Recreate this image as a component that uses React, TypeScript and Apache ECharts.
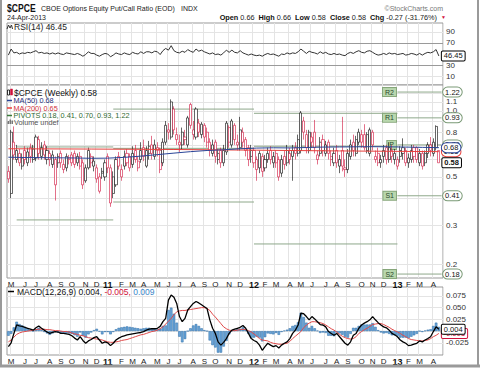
import React, { useEffect, useRef } from 'react';
import * as echarts from 'echarts';

// ---------- categories ----------
const WEEK_COUNT = 157;
const FIRST_WEEK = Date.UTC(2010, 3, 30);
const dates: string[] = Array.from({ length: WEEK_COUNT + 1 }, (_, i) =>
  new Date(FIRST_WEEK + i * 7 * 86400000).toISOString().slice(0, 10)
);
const monthLetters = ['J', 'F', 'M', 'A', 'M', 'J', 'J', 'A', 'S', 'O', 'N', 'D'];

// ---------- weekly candles [open, close, low, high] ----------
const ohlc: number[][] = [
  [0.53,0.49,0.47,0.56],[0.42,0.80,0.40,0.82],[0.72,0.63,0.60,0.85],[0.60,0.66,0.58,0.70],[0.64,0.58,0.56,0.67],
  [0.56,0.61,0.54,0.64],[0.66,0.60,0.57,0.69],[0.58,0.65,0.56,0.68],[0.68,0.62,0.58,0.71],[0.60,0.67,0.58,0.70],
  [0.61,0.76,0.59,0.78],[0.74,0.64,0.60,0.77],[0.62,0.68,0.60,0.72],[0.70,0.63,0.60,0.73],[0.60,0.66,0.57,0.69],
  [0.64,0.60,0.56,0.66],[0.57,0.63,0.55,0.66],[0.46,0.60,0.39,0.62],[0.58,0.62,0.55,0.64],[0.64,0.58,0.55,0.66],
  [0.54,0.57,0.52,0.60],[0.55,0.62,0.53,0.64],[0.60,0.61,0.57,0.63],[0.63,0.58,0.56,0.65],[0.64,0.57,0.55,0.66],
  [0.58,0.62,0.56,0.64],[0.62,0.56,0.54,0.65],[0.58,0.46,0.44,0.60],[0.48,0.55,0.47,0.57],[0.55,0.66,0.54,0.68],
  [0.62,0.58,0.55,0.64],[0.56,0.59,0.53,0.62],[0.55,0.49,0.47,0.57],[0.50,0.43,0.42,0.52],[0.53,0.52,0.49,0.55],
  [0.50,0.58,0.48,0.60],[0.62,0.55,0.52,0.64],[0.55,0.38,0.365,0.57],[0.42,0.50,0.40,0.53],[0.46,0.60,0.45,0.62],
  [0.62,0.56,0.54,0.65],[0.50,0.54,0.48,0.57],[0.56,0.62,0.54,0.66],[0.64,0.58,0.56,0.67],[0.62,0.55,0.53,0.64],
  [0.57,0.64,0.55,0.69],[0.66,0.60,0.58,0.70],[0.55,0.59,0.53,0.62],[0.60,0.66,0.58,0.72],[0.68,0.62,0.59,0.74],
  [0.56,0.66,0.55,0.69],[0.64,0.69,0.60,0.73],[0.70,0.64,0.60,0.77],[0.62,0.70,0.60,0.74],[0.68,0.66,0.62,0.72],
  [0.66,0.54,0.52,0.68],[0.58,0.72,0.56,0.75],[0.72,0.86,0.70,0.90],[0.82,0.80,0.74,0.88],[0.76,1.10,0.74,1.13],
  [1.02,0.82,0.78,1.05],[0.78,0.74,0.70,0.84],[0.72,0.70,0.65,0.78],[0.70,0.80,0.67,0.84],[0.76,0.74,0.70,0.82],
  [0.70,0.93,0.68,0.95],[1.07,0.86,0.83,1.09],[0.82,0.78,0.74,0.90],[0.76,1.02,0.74,1.04],[0.88,0.80,0.76,0.92],
  [0.78,0.87,0.75,0.89],[0.86,0.76,0.72,0.88],[0.80,0.72,0.68,0.84],[0.72,0.66,0.62,0.75],[0.64,0.70,0.62,0.74],
  [0.72,0.62,0.58,0.74],[0.60,0.64,0.57,0.67],[0.66,0.58,0.55,0.68],[0.58,0.66,0.56,0.70],[0.65,0.88,0.63,0.90],
  [0.84,0.72,0.68,0.86],[0.70,0.90,0.68,0.92],[0.86,0.74,0.70,0.88],[0.72,0.70,0.66,0.78],[0.68,0.82,0.66,0.94],
  [0.80,0.72,0.68,0.84],[0.74,0.66,0.62,0.76],[0.68,0.60,0.56,0.70],[0.62,0.66,0.58,0.70],[0.66,0.58,0.55,0.68],
  [0.60,0.54,0.48,0.62],[0.64,0.55,0.52,0.66],[0.62,0.53,0.50,0.64],[0.55,0.60,0.53,0.63],[0.60,0.64,0.58,0.68],
  [0.66,0.60,0.57,0.69],[0.58,0.62,0.55,0.65],[0.64,0.58,0.55,0.66],[0.60,0.50,0.48,0.62],[0.52,0.60,0.50,0.63],
  [0.62,0.57,0.54,0.66],[0.58,0.66,0.56,0.70],[0.64,0.60,0.57,0.68],[0.62,0.66,0.48,0.70],[0.68,0.64,0.60,0.72],
  [0.64,0.74,0.62,0.78],[0.66,0.98,0.64,1.00],[0.90,0.80,0.74,0.94],[0.78,0.68,0.64,0.82],[0.66,0.80,0.64,0.82],
  [0.76,0.72,0.68,0.80],[0.80,0.68,0.64,0.91],[0.60,0.63,0.57,0.66],[0.64,0.72,0.62,0.76],[0.74,0.66,0.62,0.78],
  [0.64,0.70,0.62,0.73],[0.72,0.64,0.60,0.74],[0.62,0.60,0.56,0.66],[0.58,0.64,0.56,0.68],[0.66,0.58,0.55,0.70],
  [0.56,0.60,0.52,0.63],[0.66,0.56,0.53,0.94],[0.55,0.54,0.50,0.60],[0.54,0.64,0.52,0.67],[0.62,0.70,0.60,0.74],
  [0.72,0.66,0.62,0.78],[0.64,0.74,0.62,0.77],[0.72,0.80,0.70,0.83],[0.78,0.72,0.68,0.82],[0.78,0.68,0.66,0.87],
  [0.66,0.78,0.64,0.80],[0.64,0.82,0.62,0.84],[0.80,0.70,0.66,0.82],[0.60,0.62,0.58,0.66],[0.64,0.58,0.56,0.68],
  [0.58,0.60,0.55,0.63],[0.62,0.66,0.58,0.70],[0.68,0.60,0.57,0.70],[0.60,0.68,0.58,0.72],[0.66,0.62,0.58,0.70],
  [0.60,0.64,0.57,0.67],[0.56,0.60,0.54,0.62],[0.66,0.62,0.58,0.69],[0.68,0.64,0.60,0.75],[0.66,0.58,0.56,0.68],
  [0.58,0.61,0.55,0.64],[0.60,0.66,0.58,0.70],[0.68,0.62,0.58,0.70],[0.68,0.60,0.58,0.69],[0.58,0.64,0.56,0.67],
  [0.64,0.56,0.54,0.66],[0.58,0.64,0.56,0.66],[0.64,0.70,0.61,0.72],[0.70,0.66,0.62,0.76],[0.64,0.72,0.62,0.75],
  [0.68,0.85,0.66,0.86],[0.66,0.58,0.58,0.66],
];

// ---------- RSI(14) ----------
const rsiVals: number[] = [
  48,59,52,53,50,52,51,53,52,54,
  56,52,53,51,52,50,52,50,52,50,
  49,52,51,50,49,51,49,46,49,54,
  51,51,48,46,49,51,50,45,48,52,
  50,49,52,50,49,53,51,50,54,51,
  54,54,52,55,54,49,56,60,57,65,
  56,53,52,55,53,58,55,53,59,55,
  57,54,52,50,52,49,50,48,52,57,
  53,57,53,52,56,52,50,48,50,48,
  47,48,46,49,51,49,50,48,46,50,
  49,52,50,52,51,54,59,55,51,55,
  53,52,50,54,51,53,50,49,51,49,
  50,48,47,51,53,51,54,56,53,52,
  55,56,53,50,48,49,51,49,52,50,
  51,49,50,51,48,49,51,50,48,51,
  48,51,53,52,54,58,46.45,
];

// ---------- MACD(12,26,9) ----------
const macdVals: number[] = [
  -0.033,-0.025,-0.005,0.013,0.011,0.010,0.008,0.006,0.004,0.002,
  0.007,0.011,0.006,0.002,-0.002,-0.005,-0.003,-0.001,-0.002,-0.005,
  -0.005,-0.006,-0.007,-0.010,-0.015,-0.019,-0.012,-0.020,-0.026,-0.021,
  -0.018,-0.014,-0.012,-0.019,-0.026,-0.023,-0.025,-0.031,-0.026,-0.019,
  -0.015,-0.012,-0.010,-0.008,-0.007,-0.006,-0.005,-0.004,-0.003,-0.001,
  0.002,0.004,0.005,0.005,0.006,0.010,0.020,0.027,0.066,0.077,
  0.072,0.059,0.031,0.020,0.027,0.045,0.052,0.059,0.063,0.060,
  0.056,0.052,0.048,0.024,0.006,-0.005,-0.023,-0.030,-0.024,-0.016,
  -0.005,0.002,0.004,0.006,0.008,0.012,0.006,-0.005,-0.016,-0.020,
  -0.023,-0.030,-0.041,-0.033,-0.026,-0.030,-0.033,-0.031,-0.036,-0.030,
  -0.026,-0.023,-0.016,-0.005,0.002,0.013,0.038,0.037,0.031,0.024,
  0.031,0.026,0.020,0.014,0.013,0.009,-0.001,-0.005,-0.009,-0.005,
  -0.012,-0.019,-0.026,-0.030,-0.023,-0.009,-0.005,0.006,0.013,0.017,
  0.020,0.024,0.031,0.024,0.018,0.013,0.009,0.007,0.002,-0.005,
  -0.008,-0.012,-0.019,-0.023,-0.026,-0.031,-0.030,-0.028,-0.026,-0.021,
  -0.023,-0.019,-0.016,-0.012,-0.001,0.009,0.004,
];
const signalVals: number[] = [
  -0.023,-0.019,-0.013,-0.007,-0.004,-0.002,-0.001,0.000,0.001,0.002,
  0.003,0.004,0.004,0.004,0.003,0.003,0.002,0.001,0.001,0.000,
  -0.001,-0.001,-0.002,-0.004,-0.006,-0.007,-0.009,-0.010,-0.012,-0.014,
  -0.015,-0.016,-0.017,-0.018,-0.019,-0.021,-0.023,-0.024,-0.024,-0.023,
  -0.022,-0.020,-0.019,-0.018,-0.016,-0.014,-0.012,-0.010,-0.008,-0.007,
  -0.005,-0.003,-0.001,0.000,0.002,0.005,0.009,0.015,0.021,0.027,
  0.035,0.041,0.043,0.044,0.044,0.045,0.046,0.047,0.048,0.049,
  0.050,0.050,0.048,0.044,0.036,0.030,0.023,0.016,0.009,0.005,
  0.002,0.001,0.001,0.002,0.003,0.004,0.003,0.001,-0.002,-0.006,
  -0.011,-0.016,-0.019,-0.020,-0.021,-0.024,-0.026,-0.027,-0.028,-0.028,
  -0.027,-0.026,-0.022,-0.016,-0.011,-0.006,-0.001,0.007,0.013,0.017,
  0.020,0.020,0.019,0.018,0.016,0.013,0.009,0.005,0.002,-0.002,
  -0.007,-0.011,-0.014,-0.016,-0.017,-0.016,-0.012,-0.005,-0.001,0.003,
  0.006,0.010,0.014,0.015,0.016,0.016,0.014,0.011,0.008,0.004,
  0.001,-0.002,-0.005,-0.009,-0.012,-0.016,-0.018,-0.019,-0.020,-0.021,
  -0.021,-0.020,-0.019,-0.016,-0.012,-0.009,-0.005,
];

// ---------- moving averages, read as [week index, value] ----------
const ma50Pts: number[][] = [
  [0,0.615],[6,0.613],[12,0.612],[18,0.611],[24,0.61],[30,0.608],[36,0.609],[42,0.614],[48,0.622],
  [54,0.632],[60,0.642],[66,0.652],[72,0.66],[78,0.665],[84,0.672],[90,0.677],[96,0.679],[102,0.678],
  [108,0.681],[114,0.684],[120,0.685],[126,0.686],[132,0.687],[138,0.686],[144,0.684],[150,0.682],[156,0.68],
];
const ma200Pts: number[][] = [[0,0.672],[30,0.670],[60,0.667],[90,0.662],[120,0.657],[156,0.652]];

// ---------- pivots (yearly) ----------
const periodStart = [3, 38, 89, 141];
const periodEnd = [38, 89, 141, 157];
const pivots2010: [string, number][] = [['P', 0.685], ['S1', 0.318]];
const pivots2011: [string, number][] = [['R1', 1.02], ['P', 0.675], ['S1', 0.384]];
const pivots2012: [string, number][] = [['R1', 0.976], ['P', 0.69], ['S1', 0.247]];
const pivots2013: [string, number][] = [['R2', 1.22], ['R1', 0.93], ['P', 0.70], ['S1', 0.41], ['S2', 0.18]];

// ---------- gridlines and their visible tick labels ----------
const rsiTicks = [10, 30, 70, 90];
const rsiTickLabels = ['10', '30', '70', '90'];
const priceTicks = [0.2, 0.3, 0.4, 0.5, 0.6, 0.7, 0.8, 0.9, 1.0, 1.1, 1.2];
const priceTickLabels = ['0.2', '0.3', '', '0.5', '', '', '0.8', '', '1.0', '1.1', ''];
const macdTicks = [-0.025, 0, 0.025, 0.05, 0.075];
const macdTickLabels = ['-0.025', '', '0.025', '0.050', '0.075'];

const RED = '#d0103a';
const GRIDC = '#e4e4e4';
const PIVOT = '#8ea88a';
const FONT = 'Liberation Sans';

function isMark(i: number): boolean {
  if (i >= WEEK_COUNT) return false;
  const day = Number(dates[i].slice(8, 10));
  return day >= 7 && day <= 13;
}
function monthFmt(v: string): string {
  const m = Number(v.slice(5, 7)) - 1;
  return m === 0 ? `{y|${v.slice(2, 4)}}` : monthLetters[m];
}
const boxLabel = (border: string, extra: any = {}) => ({
  backgroundColor: '#fff', borderColor: border, borderWidth: 1, borderRadius: 5,
  padding: [1, 2, 0, 2], fontSize: 7.5, color: '#111', fontFamily: FONT, ...extra,
});

function xAxisFor(gridIndex: number, showLabel: boolean) {
  return {
    type: 'category', gridIndex, data: dates, boundaryGap: true,
    axisLine: { show: false }, axisTick: { show: false },
    axisLabel: {
      show: showLabel, interval: (i: number) => isMark(i), formatter: monthFmt,
      fontSize: 8, color: '#222', fontFamily: FONT, margin: 2,
      rich: { y: { fontWeight: 'bold', fontSize: 9, color: '#111', fontFamily: FONT } },
    },
    splitLine: { show: true, interval: (i: number) => isMark(i), lineStyle: { color: GRIDC, width: 1 } },
  };
}

function gridMarkLine(ticks: number[], labels: string[], strong: number[] = []) {
  return {
    silent: true, symbol: ['none', 'none'], z: 1, animation: false, precision: 4,
    label: { position: 'end', distance: 3, fontSize: 8, color: '#333', fontFamily: FONT, formatter: '{b}' },
    data: ticks.map((v, i) => ({
      name: labels[i], yAxis: v,
      label: { show: labels[i] !== '' },
      lineStyle: { color: strong.includes(v) ? '#9a9a9a' : GRIDC, width: 1, type: 'solid' },
    })),
  };
}

function buildOption() {
  const last = WEEK_COUNT - 1;
  const candleData = ohlc.map((d, i) => {
    const [o, c, l, h] = d;
    const prev = i > 0 ? ohlc[i - 1][1] : o;
    const edge = c >= prev ? '#000' : RED;
    return { value: [o, c, l, h], itemStyle: { color: '#fff', color0: edge, borderColor: edge, borderColor0: edge, borderWidth: 0.6 } };
  });
  const hist = macdVals.map((m, i) => +(m - signalVals[i]).toFixed(4));

  const pivotSeries: any[] = [];
  const periods = [pivots2010, pivots2011, pivots2012, pivots2013];
  periods.forEach((levels, k) => {
    const current = k === periods.length - 1;
    levels.forEach(([name, v]) => {
      pivotSeries.push({
        type: 'line', xAxisIndex: 1, yAxisIndex: 1, silent: true, z: 2,
        symbol: 'circle', symbolSize: 1, showSymbol: current,
        itemStyle: { color: 'rgba(0,0,0,0)' },
        lineStyle: { color: PIVOT, width: 1 },
        label: { show: false },
        data: [
          current
            ? { value: [periodStart[k], v], label: { show: true, position: 'left', distance: 1, formatter: name,
                backgroundColor: '#b9d7ae', borderColor: '#86a67a', borderWidth: 1, padding: [1, 2, 0, 2],
                fontSize: 7, color: '#2c4a2c', fontFamily: FONT } }
            : [periodStart[k], v],
          [periodEnd[k], v],
        ],
        endLabel: current ? { show: true, distance: 1.5, formatter: () => v.toFixed(2), ...boxLabel('#7a9a76') } : { show: false },
      });
    });
  });

  const txt = (x: number, y: number, text: string, font: string, fill = '#222', align = 'left', extra: any = {}) => ({
    type: 'text', x, y, silent: true, z: 10,
    style: { text, font, fill, align, textAlign: align, verticalAlign: 'middle', textVerticalAlign: 'middle', ...extra },
  });
  const ln = (x1: number, y1: number, x2: number, y2: number, stroke: string, w = 1) => ({
    type: 'line', silent: true, z: 10, shape: { x1, y1, x2, y2 }, style: { stroke, lineWidth: w },
  });

  return {
    animation: false,
    backgroundColor: '#fff',
    grid: [
      { left: 7, top: 23, width: 436, height: 62, show: true, borderColor: '#999', borderWidth: 1, backgroundColor: '#fff' },
      { left: 7, top: 85, width: 436, height: 193, show: true, borderColor: '#999', borderWidth: 1, backgroundColor: '#fff' },
      { left: 7, top: 287, width: 436, height: 68, show: true, borderColor: '#999', borderWidth: 1, backgroundColor: '#fff' },
    ],
    xAxis: [xAxisFor(0, false), xAxisFor(1, true), xAxisFor(2, true)],
    yAxis: [
      { type: 'value', gridIndex: 0, min: -6, max: 106, show: false },
      { type: 'log', logBase: 10, gridIndex: 1, min: 0.1727, max: 1.314, show: false },
      { type: 'value', gridIndex: 2, min: -0.051, max: 0.094, show: false },
    ],
    series: [
      {
        type: 'line', name: 'RSI', xAxisIndex: 0, yAxisIndex: 0, data: rsiVals, showSymbol: false, silent: true, z: 3,
        lineStyle: { color: '#333', width: 1 },
        endLabel: { show: true, distance: 3, formatter: (p: any) => Number(p.value).toFixed(2), ...boxLabel('#000', { borderRadius: 1 }) },
        markLine: gridMarkLine(rsiTicks, rsiTickLabels, [30, 70]),
      },
      ...pivotSeries,
      {
        type: 'candlestick', name: '$CPCE', xAxisIndex: 1, yAxisIndex: 1, data: candleData, barWidth: 2.6, silent: true, z: 3,
        markLine: gridMarkLine(priceTicks, priceTickLabels),
        markPoint: {
          symbol: 'rect', symbolSize: 1, itemStyle: { color: 'rgba(0,0,0,0)' }, animation: false, z: 8,
          label: { show: true, position: 'right', distance: 3, formatter: (p: any) => Number(p.value).toFixed(2),
            ...boxLabel('#000', { fontWeight: 'bold', borderRadius: 1 }) },
          data: [{ coord: [last, ohlc[last][1]], value: ohlc[last][1] }],
        },
      },
      {
        type: 'line', name: 'MA200', xAxisIndex: 1, yAxisIndex: 1, data: ma200Pts, showSymbol: false, silent: true, z: 4,
        lineStyle: { color: '#e8413c', width: 1 },
        endLabel: { show: true, distance: 3, formatter: (p: any) => p.value[1].toFixed(2), ...boxLabel('#e8413c') },
      },
      {
        type: 'line', name: 'MA50', xAxisIndex: 1, yAxisIndex: 1, data: ma50Pts, showSymbol: false, silent: true, z: 4,
        lineStyle: { color: '#2a4598', width: 1 },
        endLabel: { show: true, distance: 3, formatter: (p: any) => p.value[1].toFixed(2), ...boxLabel('#2a4598') },
      },
      {
        type: 'bar', name: 'Hist', xAxisIndex: 2, yAxisIndex: 2, data: hist, barCategoryGap: '8%', silent: true, z: 2,
        itemStyle: { color: '#6aa6da', borderColor: '#2a6aa5', borderWidth: 0.5 },
        markLine: gridMarkLine(macdTicks, macdTickLabels),
      },
      {
        type: 'line', name: 'Signal', xAxisIndex: 2, yAxisIndex: 2, data: signalVals, showSymbol: false, silent: true, z: 3,
        lineStyle: { color: '#e04a4a', width: 1 },
        endLabel: { show: true, distance: 3, formatter: (p: any) => Number(p.value).toFixed(3), ...boxLabel(RED, { color: RED, borderRadius: 1 }) },
      },
      {
        type: 'line', name: 'MACD', xAxisIndex: 2, yAxisIndex: 2, data: macdVals, showSymbol: false, silent: true, z: 4,
        lineStyle: { color: '#000', width: 1.3 },
        endLabel: { show: true, distance: 3, formatter: (p: any) => Number(p.value).toFixed(3), ...boxLabel('#000', { borderRadius: 1 }) },
      },
    ],
    graphic: [
      // outer frame
      ln(1, 0, 1, 366, '#9a9a9a', 2),
      ln(0, 366, 480, 366, '#9a9a9a', 3),
      ln(478, 0, 478, 366, '#9a9a9a', 2),
      // header
      { type: 'text', x: 7, y: 8, scaleX: 0.78, silent: true, z: 10,
        style: { text: '$CPCE', font: `bold 11px "${FONT}"`, fill: '#111', align: 'left', textAlign: 'left', verticalAlign: 'middle', textVerticalAlign: 'middle' } },
      txt(41, 8, 'CBOE Options Equity Put/Call Ratio (EOD)', `7px "${FONT}"`, '#222'),
      txt(181, 8, 'INDX', `7px "${FONT}"`, '#222'),
      txt(443, 8, '\u00A9StockCharts.com', `7px "${FONT}"`, '#777', 'right'),
      txt(7, 17, '24-Apr-2013', `7px "${FONT}"`, '#222'),
      {
        type: 'text', x: 437, y: 17, silent: true, z: 10,
        style: {
          text: '{b|Open} 0.66  {b|High} 0.66  {b|Low} 0.58  {b|Close} 0.58  {b|Chg} -0.27 (-31.76%)',
          fontSize: 7.3, fontFamily: FONT, fill: '#222', align: 'right', textAlign: 'right', verticalAlign: 'middle', textVerticalAlign: 'middle',
          rich: { b: { fontWeight: 'bold', fontSize: 7.3, fontFamily: FONT, fill: '#111' } },
        },
      },
      txt(441, 17, '\u25BC', `5px "${FONT}"`, RED),
      // RSI legend
      { type: 'polyline', silent: true, z: 10, shape: { points: [[7, 29], [8.5, 25], [10, 28], [11.5, 25], [12.5, 29]] }, style: { stroke: '#333', fill: 'none', lineWidth: 1 } },
      txt(14, 27, 'RSI(14) 46.45', `8.5px "${FONT}"`, '#222'),
      // main legend
      { type: 'rect', silent: true, z: 10, shape: { x: 7.5, y: 90, width: 2, height: 5 }, style: { fill: '#fff', stroke: '#000', lineWidth: 0.8 } },
      { type: 'rect', silent: true, z: 10, shape: { x: 10.5, y: 89, width: 2, height: 6 }, style: { fill: RED, stroke: RED, lineWidth: 0.5 } },
      txt(14, 93, '$CPCE (Weekly) 0.58', `8.5px "${FONT}"`, '#111'),
      ln(7, 100.5, 12, 100.5, '#2a4598', 1.5),
      txt(13.5, 100.5, 'MA(50) 0.68', `7.3px "${FONT}"`, '#1f2f7a'),
      ln(7, 108, 12, 108, '#e8413c', 1.5),
      txt(13.5, 108, 'MA(200) 0.65', `7.3px "${FONT}"`, '#d0303a'),
      ln(7, 115.5, 12, 115.5, '#3a7a3a', 1.5),
      txt(13.5, 115.5, 'PIVOTS 0.18, 0.41, 0.70, 0.93, 1.22', `7.3px "${FONT}"`, '#2f6a2f'),
      { type: 'rect', silent: true, z: 10, shape: { x: 7.5, y: 121, width: 1.5, height: 3 }, style: { fill: '#777' } },
      { type: 'rect', silent: true, z: 10, shape: { x: 9.5, y: 119.5, width: 1.5, height: 4.5 }, style: { fill: '#777' } },
      { type: 'rect', silent: true, z: 10, shape: { x: 11.5, y: 120.5, width: 1.5, height: 3.5 }, style: { fill: '#777' } },
      txt(14, 122.5, 'Volume undef', `7.3px "${FONT}"`, '#555'),
      // MACD legend
      ln(8, 291.5, 14, 291.5, '#000', 1.5),
      {
        type: 'text', x: 17, y: 291.5, silent: true, z: 10,
        style: {
          text: '{k|MACD(12,26,9) 0.004, }{r|-0.005, }{bl|0.009}',
          fontSize: 8.5, fontFamily: FONT, fill: '#111', align: 'left', textAlign: 'left', verticalAlign: 'middle', textVerticalAlign: 'middle',
          rich: {
            k: { fontSize: 8.5, fontFamily: FONT, fill: '#111' },
            r: { fontSize: 8.5, fontFamily: FONT, fill: RED },
            bl: { fontSize: 8.5, fontFamily: FONT, fill: '#3a86c8' },
          },
        },
      },
    ],
  };
}

export default function App() {
  const ref = useRef<HTMLDivElement>(null);
  useEffect(() => {
    if (!ref.current) return;
    const chart = echarts.init(ref.current, null, { renderer: 'svg' });
    chart.setOption(buildOption() as any);
    return () => chart.dispose();
  }, []);
  return <div ref={ref} style={{ position: 'absolute', left: 0, top: 0, width: 480, height: 369 }} />;
}
